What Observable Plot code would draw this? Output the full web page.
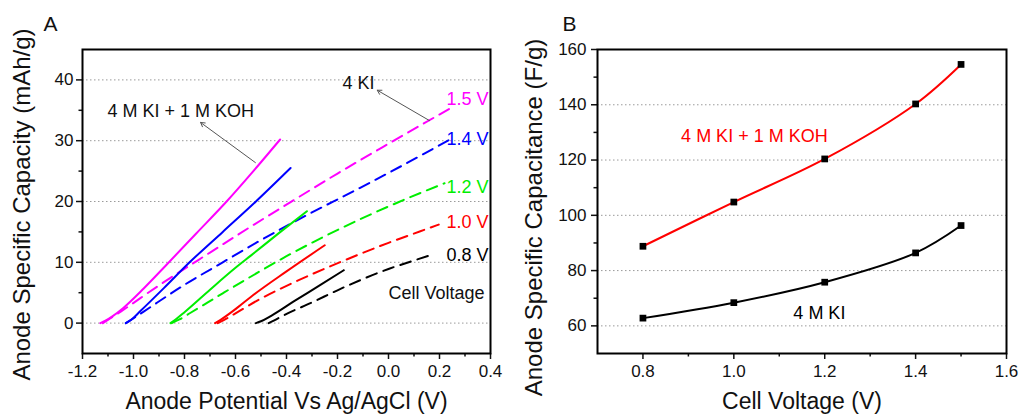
<!DOCTYPE html>
<html>
<head>
<meta charset="utf-8">
<script src="https://cdn.jsdelivr.net/npm/d3@7"></script>
<script src="https://cdn.jsdelivr.net/npm/@observablehq/plot@0.6"></script>
<style>
  body { margin: 0; background: #fff; }
  #wrap { position: relative; width: 1019px; height: 414px; overflow: hidden; background: #fff; }
  #panelA, #panelB { position: absolute; top: 0; }
  #panelA { left: 0; }
  #panelB { left: 510px; }
</style>
</head>
<body>
<div id="wrap"><div id="panelA"></div><div id="panelB"></div></div>
<script>
// ---------------- Panel A data ----------------
const cellVoltages = ["1.5 V", "1.4 V", "1.2 V", "1.0 V", "0.8 V"];
const seriesColors = ["#ff00ff", "#0000ff", "#00ee00", "#ff0000", "#000000"];

// 4 M KI + 1 M KOH (solid): [anode potential V, capacity mAh/g]
const koh15 = [[-1.13,0],[-1.11,0.4],[-1.08,1.2],[-1.04,2.5],[-0.96,5.7],[-0.875,9.4],[-0.755,14.7],[-0.635,20],[-0.53,25],[-0.425,30.2]];
const koh14 = [[-1.03,0],[-1.01,0.5],[-0.975,1.9],[-0.88,5.8],[-0.78,10],[-0.65,15],[-0.52,20],[-0.384,25.5]];
const koh12 = [[-0.855,0],[-0.835,0.6],[-0.80,1.8],[-0.70,5.5],[-0.60,9.1],[-0.54,11.1],[-0.43,14.8],[-0.32,18.4]];
const koh10 = [[-0.68,0],[-0.66,0.5],[-0.60,2.3],[-0.54,4.3],[-0.40,8.5],[-0.25,12.8]];
const koh08 = [[-0.52,0],[-0.50,0.3],[-0.46,1.2],[-0.37,3.6],[-0.27,6.2],[-0.175,8.7]];

// 4 M KI (dashed)
const ki15 = [[-1.12,0],[-1.09,0.8],[-1.05,1.9],[-0.9,6.2],[-0.7,11.6],[-0.535,16.0],[-0.384,19.9],[-0.2,24.6],[0,29.5],[0.237,35.2]];
const ki14 = [[-1.03,0],[-1.0,0.8],[-0.96,1.9],[-0.8,6.3],[-0.65,10.0],[-0.515,13.3],[-0.35,17.1],[-0.123,22.0],[0,24.7],[0.245,30.3]];
const ki12 = [[-0.85,0],[-0.82,0.6],[-0.776,1.7],[-0.65,4.9],[-0.554,7.3],[-0.4,11.0],[-0.254,14.2],[-0.1,17.3],[0.034,19.8],[0.125,21.4],[0.22,23.0]];
const ki10 = [[-0.67,0],[-0.646,0.5],[-0.6,1.6],[-0.515,3.7],[-0.35,7.1],[-0.188,10.05],[0,13.2],[0.125,15.1],[0.197,16.2]];
const ki08 = [[-0.47,0],[-0.45,0.4],[-0.41,1.3],[-0.3,3.4],[-0.19,5.6],[0,8.9],[0.1,10.3],[0.16,11.1]];

const kohCurves = [koh15, koh14, koh12, koh10, koh08];
const kiCurves = [ki15, ki14, ki12, ki10, ki08];

const xMajorA = [-1.2, -1.0, -0.8, -0.6, -0.4, -0.2, 0.0, 0.2, 0.4];
const xMinorA = [-1.1, -0.9, -0.7, -0.5, -0.3, -0.1, 0.1, 0.3];
const yMajorA = [0, 10, 20, 30, 40];
const yMinorA = [5, 15, 25, 35];

// annotation anchors (data units)
const voltLabelY = [36.9, 30.3, 22.3, 16.6, 11.1];
const voltLabelX = 0.392;
const notesA = [
  {text: "4 M KI + 1 M KOH", x: -1.102, y: 34.9},
  {text: "4 KI", x: -0.18, y: 39.5},
  {text: "Cell Voltage", x: 0.0, y: 4.9}
];
const arrowsA = [
  {x1: -0.522, y1: 26.4, x2: -0.737, y2: 33.0},
  {x1: 0.161, y1: 33.3, x2: -0.044, y2: 38.3}
];

// ---------------- Panel B data ----------------
const cellVoltageB = [0.8, 1.0, 1.2, 1.4, 1.5];
const capKOH = [88.8, 104.8, 120.4, 140.3, 154.6];
const capKI = [62.8, 68.4, 75.8, 86.4, 96.3];
const xMajorB = [0.8, 1.0, 1.2, 1.4, 1.6];
const xMinorB = [0.9, 1.1, 1.3, 1.5];
const yMajorB = [60, 80, 100, 120, 140, 160];
const yMinorB = [70, 90, 110, 130, 150];
const gridB = [60, 80, 100, 120, 140];
const notesB = [
  {text: "4 M KI + 1 M KOH", x: 0.884, y: 128.7, color: "#ff0000"},
  {text: "4 M KI", x: 1.131, y: 64.4, color: "#000000"}
];

// ---------------- build ----------------
const FONT = '"Liberation Sans", Arial, Helvetica, sans-serif';
const style = {fontFamily: FONT, color: "#111", background: "transparent", overflow: "visible"};
const gridStyle = {stroke: "#9a9a9a", strokeOpacity: 1, strokeWidth: 1, strokeDasharray: "1.5,2.5"};
const tick = {strokeWidth: 1.5, label: null, fontSize: 17};

const solidRows = [], dashRows = [];
cellVoltages.forEach((v, i) => {
  kohCurves[i].forEach(([x, y]) => solidRows.push({x, y, v}));
  kiCurves[i].forEach(([x, y]) => dashRows.push({x, y, v}));
});
const voltLabels = cellVoltages.map((v, i) => ({v, x: voltLabelX, y: voltLabelY[i]}));

const plotA = Plot.plot({
  width: 510, height: 414,
  marginLeft: 82, marginRight: 20, marginTop: 49, marginBottom: 61,
  style,
  x: {domain: [-1.2, 0.4], label: null},
  y: {domain: [-5, 45], label: null},
  color: {domain: cellVoltages, range: seriesColors},
  marks: [
    Plot.gridY(yMajorA, gridStyle),
    Plot.line(dashRows, {x: "x", y: "y", z: "v", stroke: "v", strokeWidth: 2, strokeDasharray: "11,7", curve: "monotone-x"}),
    Plot.line(solidRows, {x: "x", y: "y", z: "v", stroke: "v", strokeWidth: 2, curve: "monotone-x"}),
    Plot.arrow(arrowsA, {x1: "x1", y1: "y1", x2: "x2", y2: "y2", stroke: "#555", strokeWidth: 1, headLength: 7}),
    Plot.text(voltLabels, {x: "x", y: "y", text: "v", fill: "v", textAnchor: "end", fontSize: 18}),
    Plot.text(notesA, {x: "x", y: "y", text: "text", fill: "#111", textAnchor: "start", fontSize: 18}),
    Plot.axisX(xMajorA, {...tick, tickSize: 6, tickPadding: 5, tickFormat: d => d.toFixed(1)}),
    Plot.axisX(xMinorA, {...tick, tickSize: 3.5, tickFormat: () => ""}),
    Plot.axisY(yMajorA, {...tick, tickSize: 6, tickPadding: 3, tickFormat: d => String(d)}),
    Plot.axisY(yMinorA, {...tick, tickSize: 3.5, tickFormat: () => ""}),
    Plot.frame({stroke: "#000", strokeWidth: 2}),
    Plot.text(["Anode Potential Vs Ag/AgCl (V)"], {text: d => d, frameAnchor: "bottom", dy: 55, textAnchor: "middle", lineAnchor: "bottom", fontSize: 23, fill: "#111"}),
    Plot.text(["Anode Specific Capacity (mAh/g)"], {text: d => d, frameAnchor: "left", dx: -60, dy: 3, rotate: -90, textAnchor: "middle", lineAnchor: "middle", fontSize: 24, fill: "#111"}),
    Plot.text(["A"], {text: d => d, frameAnchor: "top-left", dx: -39, dy: -19, textAnchor: "start", lineAnchor: "bottom", fontSize: 21, fill: "#111"})
  ]
});
document.getElementById("panelA").appendChild(plotA);

const rowsB = cellVoltageB.map((v, i) => ({v, koh: capKOH[i], ki: capKI[i]}));
const plotB = Plot.plot({
  width: 509, height: 414,
  marginLeft: 87, marginRight: 13, marginTop: 49, marginBottom: 61,
  style,
  x: {domain: [0.7, 1.6], label: null},
  y: {domain: [50, 160], label: null},
  marks: [
    Plot.gridY(gridB, gridStyle),
    Plot.line(rowsB, {x: "v", y: "koh", stroke: "#ff0000", strokeWidth: 2, curve: "catmull-rom"}),
    Plot.line(rowsB, {x: "v", y: "ki", stroke: "#000", strokeWidth: 2, curve: "catmull-rom"}),
    Plot.dot(rowsB, {x: "v", y: "koh", symbol: "square", r: 3.8, fill: "#000"}),
    Plot.dot(rowsB, {x: "v", y: "ki", symbol: "square", r: 3.8, fill: "#000"}),
    Plot.text(notesB, {x: "x", y: "y", text: "text", fill: "color", textAnchor: "start", fontSize: 18}),
    Plot.axisX(xMajorB, {...tick, tickSize: 6, tickPadding: 5, tickFormat: d => d.toFixed(1)}),
    Plot.axisX(xMinorB, {...tick, tickSize: 3.5, tickFormat: () => ""}),
    Plot.axisY(yMajorB, {...tick, tickSize: 6, tickPadding: 5, tickFormat: d => String(d)}),
    Plot.axisY(yMinorB, {...tick, tickSize: 3.5, tickFormat: () => ""}),
    Plot.frame({stroke: "#000", strokeWidth: 2}),
    Plot.text(["Cell Voltage (V)"], {text: d => d, frameAnchor: "bottom", dy: 55, textAnchor: "middle", lineAnchor: "bottom", fontSize: 23, fill: "#111"}),
    Plot.text(["Anode Specific Capacitance (F/g)"], {text: d => d, frameAnchor: "left", dx: -63, dy: 16, rotate: -90, textAnchor: "middle", lineAnchor: "middle", fontSize: 24, fill: "#111"}),
    Plot.text(["B"], {text: d => d, frameAnchor: "top-left", dx: -35, dy: -19, textAnchor: "start", lineAnchor: "bottom", fontSize: 21, fill: "#111"})
  ]
});
document.getElementById("panelB").appendChild(plotB);
</script>
</body>
</html>
